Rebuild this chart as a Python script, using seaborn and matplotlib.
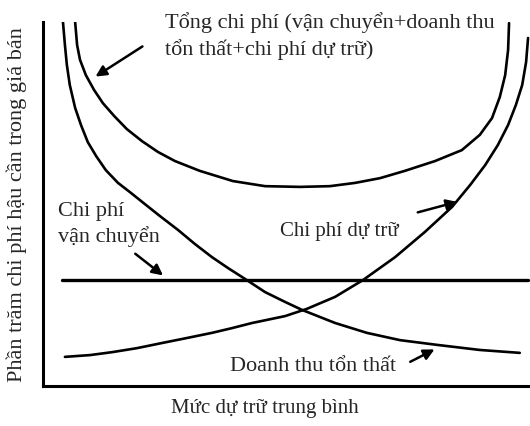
import pandas as pd
import seaborn as sns
import matplotlib.pyplot as plt

# --- data (x = avg inventory level, y = % of sales price) ---
transport_x = [0.40, 9.95]
transport_y = [2.92, 2.92]

carrying_x = [0.45, 0.97, 1.42, 1.93, 2.44, 2.96, 3.47, 3.88, 4.29, 4.97, 5.42, 6.00,
              6.57, 7.23, 7.84, 8.40, 8.77, 9.08, 9.34, 9.55, 9.71, 9.84, 9.92, 9.96]
carrying_y = [0.80, 0.85, 0.93, 1.04, 1.18, 1.32, 1.46, 1.59, 1.73, 1.92, 2.12, 2.45,
              2.91, 3.54, 4.23, 4.92, 5.52, 6.07, 6.62, 7.17, 7.72, 8.27, 8.90, 9.56]

lost_x = [0.41, 0.45, 0.49, 0.55, 0.66, 0.78, 0.92, 1.09, 1.29, 1.54, 1.81, 2.09, 2.40,
          2.77, 3.12, 3.47, 3.80, 4.15, 4.56, 4.97, 5.32, 6.00, 6.65, 7.33, 8.09, 8.97, 9.79]
lost_y = [10.0, 9.37, 8.82, 8.27, 7.64, 7.17, 6.70, 6.32, 5.93, 5.58, 5.30, 5.00, 4.67,
          4.29, 3.90, 3.54, 3.24, 2.94, 2.58, 2.31, 2.09, 1.73, 1.46, 1.26, 1.13, 0.99, 0.91]

total_x = [0.66, 0.70, 0.76, 0.88, 1.05, 1.23, 1.46, 1.72, 2.03, 2.36, 2.71, 3.22, 3.90,
           4.56, 5.28, 5.89, 6.41, 6.92, 7.43, 8.05, 8.60, 8.97, 9.22, 9.38, 9.49, 9.55, 9.57]
total_y = [10.0, 9.37, 8.96, 8.54, 8.13, 7.77, 7.42, 7.06, 6.73, 6.43, 6.18, 5.91, 5.63,
           5.49, 5.47, 5.49, 5.58, 5.71, 5.91, 6.18, 6.48, 6.90, 7.36, 7.94, 8.54, 9.23, 9.97]

curves = {
    'transport': (transport_x, transport_y),
    'carrying': (carrying_x, carrying_y),
    'lost': (lost_x, lost_y),
    'total': (total_x, total_y),
}
df = pd.concat(
    [pd.DataFrame({'x': xs, 'y': ys, 'curve': name}) for name, (xs, ys) in curves.items()],
    ignore_index=True,
)

# --- style ---
sns.set_style('white')
plt.rcParams['font.family'] = ['Liberation Serif', 'DejaVu Serif']
FS = 16

fig = plt.figure(figsize=(5.3, 4.26), dpi=100)
ax = fig.add_axes([43 / 530, 40 / 426, 487 / 530, 364 / 426])

for name, sub in df.groupby('curve', sort=False):
    sns.lineplot(data=sub, x='x', y='y', ax=ax, color='black',
                 lw=2.4 if name == 'transport' else 1.9,
                 sort=False, estimator=None, legend=False)

ax.set_xlim(0, 10)
ax.set_ylim(0, 10)
ax.set_xticks([])
ax.set_yticks([])
ax.set_xlabel('')
ax.set_ylabel('')
for side in ('top', 'right'):
    ax.spines[side].set_visible(False)
for side in ('left', 'bottom'):
    ax.spines[side].set_color('black')
    ax.spines[side].set_linewidth(2.2)

# --- labels & arrows ---
arrow = dict(arrowstyle='-|>', color='black', lw=1.8, mutation_scale=16)

ax.text(2.51, 9.84, 'Tổng chi phí (vận chuyển+doanh thu', fontsize=FS, va='baseline')
ax.text(2.51, 9.09, 'tổn thất+chi phí dự trữ)', fontsize=FS, va='baseline')
ax.annotate('', xy=(1.03, 8.46), xytext=(2.09, 9.37), arrowprops=arrow)

ax.text(0.31, 4.67, 'Chi phí', fontsize=FS, va='baseline')
ax.text(0.31, 3.96, 'vận chuyển', fontsize=FS, va='baseline')
ax.annotate('', xy=(2.51, 2.99), xytext=(1.85, 3.68), arrowprops=arrow)

ax.text(4.87, 4.12, 'Chi phí dự trữ', fontsize=15, va='baseline')
ax.annotate('', xy=(8.56, 5.08), xytext=(7.64, 4.75), arrowprops=arrow)

ax.text(3.84, 0.41, 'Doanh thu tổn thất', fontsize=FS, va='baseline')
ax.annotate('', xy=(8.09, 1.04), xytext=(7.49, 0.63), arrowprops=arrow)

fig.text(265 / 530, (426 - 413) / 426, 'Mức dự trữ trung bình', fontsize=15,
         ha='center', va='baseline')
fig.text(17 / 530, (426 - 205) / 426, 'Phần trăm chi phí hậu cần trong giá bán',
         fontsize=FS, rotation=90, ha='center', va='center')

fig.savefig('out.png', dpi=100)
